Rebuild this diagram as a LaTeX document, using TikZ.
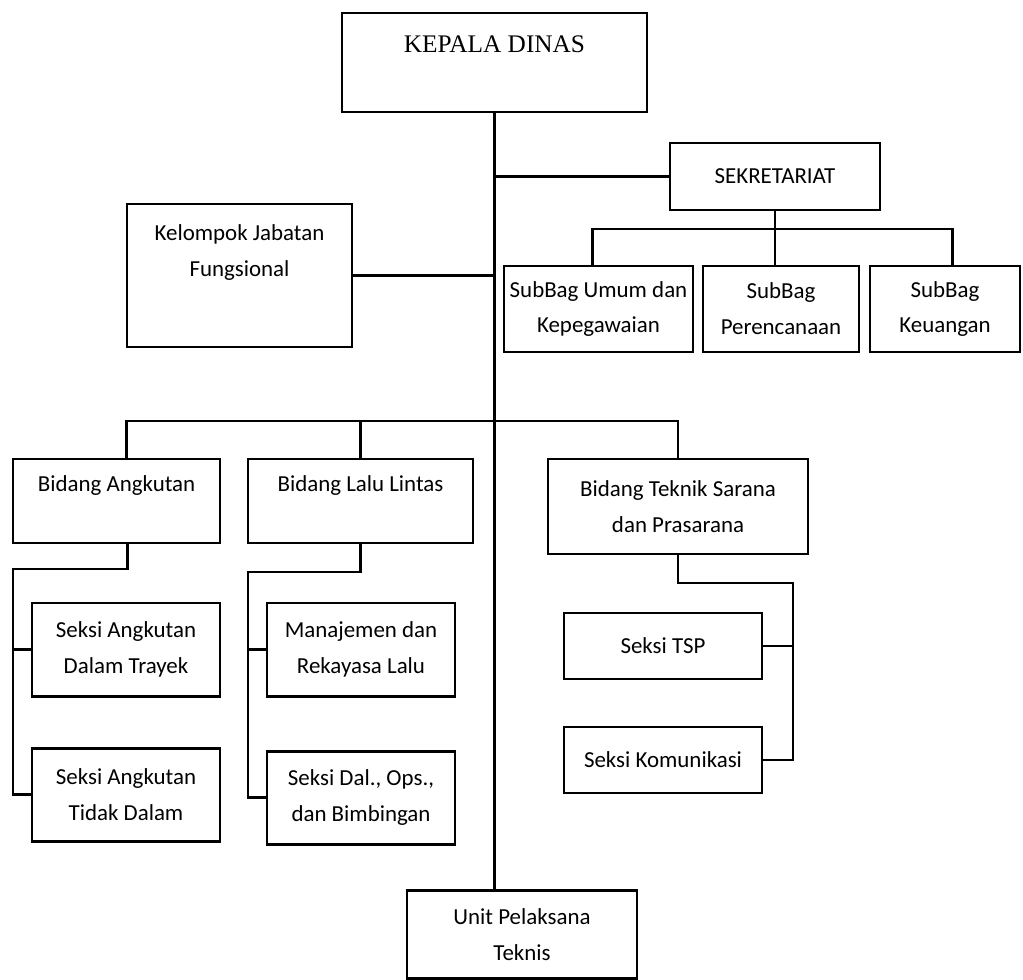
\documentclass[tikz,border=0pt]{standalone}
\usepackage{fontspec}
\setmainfont{Carlito}
\newfontfamily\serifhead{Liberation Serif}
\usetikzlibrary{positioning}
\tikzstyle{block} = [rectangle, draw, line width=2pt, outer sep=0pt, inner sep=2pt, align=center, font=\fontsize{16.3}{25.5}\selectfont]
\tikzstyle{blockhead} = [block, minimum width=7.625cm, minimum height=2.475cm, font=\serifhead\fontsize{18}{25.5}\selectfont]
\tikzstyle{blocksub} = [block, minimum height=2.15cm]
\tikzstyle{blockbid} = [block, minimum height=2.1cm]
\tikzstyle{blocksek} = [block, minimum width=4.7cm, minimum height=2.33cm]
\tikzstyle{blocksek2} = [block, minimum width=4.95cm, minimum height=1.65cm]
\tikzstyle{line} = [draw, line width=2pt]

\begin{document}
\begin{tikzpicture}
    \useasboundingbox (0,0) rectangle (25.575,-24.475);
    \node [blockhead] (kepala) at (12.3625,-1.5625) {KEPALA DINAS\\ \mbox{}};
    \node [block, minimum width=5.25cm, minimum height=1.675cm, below right=0.775cm and 0.575cm of kepala] (sekretariat) {SEKRETARIAT};
    \node [block, minimum width=5.625cm, minimum height=3.575cm, below left=2.3cm and -0.25cm of kepala] (kelompok) {Kelompok Jabatan\\Fungsional\\[10pt]\mbox{}};
    \node [blocksub, minimum width=3.9cm, below=1.4cm of sekretariat, xshift=0.15cm] (perencanaan) {SubBag\\Perencanaan};
    \node [blocksub, minimum width=4.725cm, left=0.25cm of perencanaan] (umum) {SubBag Umum dan\\Kepegawaian};
    \node [blocksub, minimum width=3.75cm, right=0.275cm of perencanaan] (keuangan) {SubBag\\Keuangan};
    \node [blockbid, minimum width=5.175cm, below=2.8cm of kelompok, xshift=-3.075cm] (angkutan) {Bidang Angkutan\\ \mbox{}};
    \node [blockbid, minimum width=5.625cm, right=0.7cm of angkutan] (lalulintas) {Bidang Lalu Lintas\\ \mbox{}};
    \node [blockbid, minimum width=6.5cm, minimum height=2.375cm, below right=0cm and 1.875cm of lalulintas.north east] (teknik) {Bidang Teknik Sarana\\dan Prasarana};
    \node [blocksek, below left=1.5cm and 0cm of angkutan.south east] (trayek) {Seksi Angkutan\\Dalam Trayek};
    \node [blocksek, below=1.3cm of trayek] (tidak) {Seksi Angkutan\\Tidak Dalam};
    \node [blocksek, below left=1.5cm and 0.45cm of lalulintas.south east] (manajemen) {Manajemen dan\\Rekayasa Lalu};
    \node [blocksek, below=1.375cm of manajemen] (dal) {Seksi Dal., Ops.,\\dan Bimbingan};
    \node [blocksek2, below right=1.475cm and 0.4cm of teknik.south west] (tsp) {Seksi TSP};
    \node [blocksek2, below=1.2cm of tsp] (komunikasi) {Seksi Komunikasi};
    \node [block, minimum width=5.75cm, minimum height=2.2cm, below right=1.15cm and -1.2cm of dal.south east] (unit) {Unit Pelaksana\\Teknis};
    \coordinate[below=0.475cm of sekretariat] (sbus);
    \coordinate[left=0.16cm of umum.north] (umumc);
    \coordinate[right=0.18cm of keuangan.north] (keuanganc);
    \coordinate[above=0.95cm of teknik.north] (mbus);
    \coordinate[right=0.24cm of angkutan.north] (angkutanc);
    \coordinate[right=0.28cm of angkutan.south] (angkutanbc);
    \coordinate[below=0.65cm of angkutanbc] (angkutanbend);
    \coordinate[below=0.725cm of lalulintas.south] (lalulintasbend);
    \coordinate[below=0.725cm of teknik.south] (teknikbend);
    \coordinate[right=0.775cm of komunikasi.east] (teknikrc);
    \path [line] (kepala.south) -- (kepala.south |- unit.north);
    \path [line] (kepala.south |- sekretariat.west) -- (sekretariat.west);
    \path [line] (kelompok.east) -- (kelompok.east -| kepala.south);
    \path [line] (sekretariat.south) -- (sekretariat.south |- perencanaan.north);
    \path [line] (umumc) |- (sbus) -| (keuanganc);
    \path [line] (angkutanc) |- (mbus) -- (teknik.north);
    \path [line] (lalulintas.north) -- (lalulintas.north |- mbus);
    \path [line] (angkutanbc) -- (angkutanbend) -| (angkutan.west |- tidak.west) -- (tidak.west);
    \path [line] (angkutan.west |- trayek.west) -- (trayek.west);
    \path [line] (lalulintas.south) -- (lalulintasbend) -| (lalulintas.west |- dal.west) -- (dal.west);
    \path [line] (lalulintas.west |- manajemen.west) -- (manajemen.west);
    \path [line] (teknik.south) -- (teknikbend) -| (teknikrc) -- (komunikasi.east);
    \path [line] (tsp.east) -- (tsp.east -| teknikrc);
\end{tikzpicture}
\end{document}
